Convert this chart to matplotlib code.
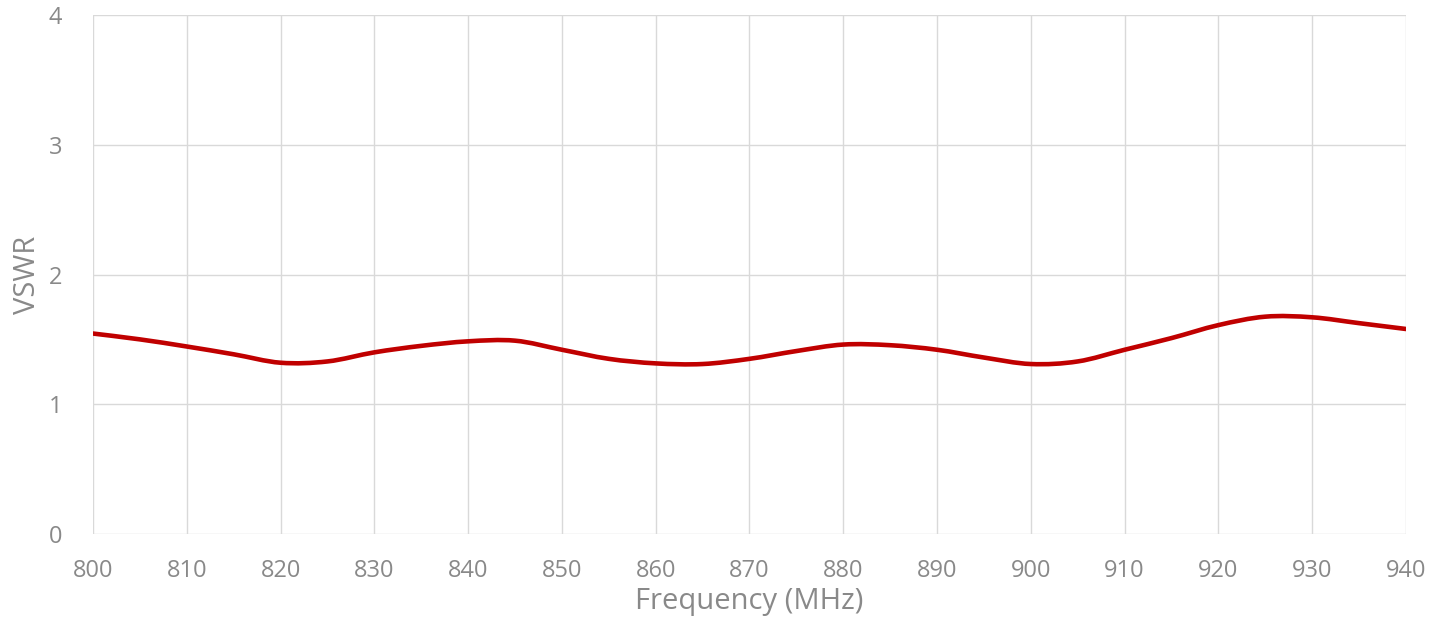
import matplotlib
matplotlib.use("Agg")
import matplotlib.pyplot as plt
import numpy as np
from matplotlib.path import Path
from matplotlib.patches import PathPatch

# Data
freq_mhz = [800, 805, 810, 815, 820, 825, 830, 835, 840, 845, 850, 855, 860, 865,
            870, 875, 880, 885, 890, 895, 900, 905, 910, 915, 920, 925, 930, 935, 940]
vswr = [1.545, 1.50, 1.445, 1.385, 1.32, 1.33, 1.40, 1.45, 1.485, 1.49, 1.42, 1.35,
        1.315, 1.31, 1.35, 1.41, 1.46, 1.455, 1.42, 1.36, 1.31, 1.33, 1.42, 1.51,
        1.61, 1.675, 1.67, 1.625, 1.58]
x_ticks = [800, 810, 820, 830, 840, 850, 860, 870, 880, 890, 900, 910, 920, 930, 940]
y_ticks = [0, 1, 2, 3, 4]

TEXT = "#898989"
GRID = "#d9d9d9"
LINE = "#c00000"
FONT = ["Open Sans", "DejaVu Sans"]

fig = plt.figure(figsize=(14.45, 6.25), dpi=100)
ax = fig.add_axes([93 / 1445, 1 - 534 / 625, (1406 - 93) / 1445, (534 - 15) / 625])

# Smoothed line (Excel-style Catmull-Rom -> cubic Bezier segments)
x = np.array(freq_mhz, dtype=float)
y = np.array(vswr, dtype=float)
verts = [(x[0], y[0])]
codes = [Path.MOVETO]
n = len(x)
for i in range(n - 1):
    p0 = (x[i - 1], y[i - 1]) if i > 0 else (x[i], y[i])
    p1 = (x[i], y[i])
    p2 = (x[i + 1], y[i + 1])
    p3 = (x[i + 2], y[i + 2]) if i + 2 < n else (x[i + 1], y[i + 1])
    c1 = (p1[0] + (p2[0] - p0[0]) / 6, p1[1] + (p2[1] - p0[1]) / 6)
    c2 = (p2[0] - (p3[0] - p1[0]) / 6, p2[1] - (p3[1] - p1[1]) / 6)
    verts += [c1, c2, p2]
    codes += [Path.CURVE4] * 3
ax.add_patch(PathPatch(Path(verts, codes), fill=False, edgecolor=LINE,
                       linewidth=3.3, capstyle="round", joinstyle="round", zorder=3))

ax.set_xlim(800, 940)
ax.set_ylim(0, 4)
ax.set_xticks(x_ticks)
ax.set_yticks(y_ticks)
ax.grid(True, color=GRID, linewidth=1.0)
ax.set_axisbelow(True)
for s in ax.spines.values():
    s.set_visible(False)
ax.tick_params(length=0, colors=TEXT, labelsize=17)
ax.tick_params(axis="x", pad=18)
ax.tick_params(axis="y", pad=22)
for lab in ax.get_xticklabels() + ax.get_yticklabels():
    lab.set_family(FONT)

ax.set_xlabel("Frequency (MHz)", fontsize=21, color=TEXT, family=FONT, labelpad=3)
ax.set_ylabel("VSWR", fontsize=21, color=TEXT, family=FONT, labelpad=5)

fig.savefig("out.png", dpi=100, facecolor="white")
